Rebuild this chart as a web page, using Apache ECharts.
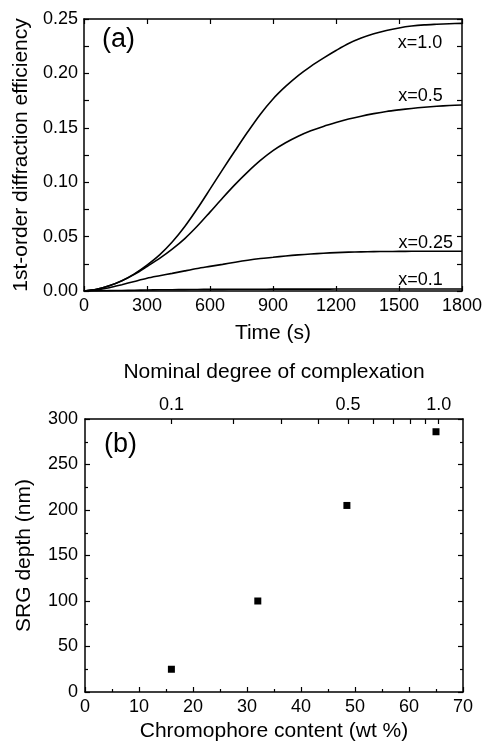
<!DOCTYPE html>
<html>
<head>
<meta charset="utf-8">
<script src="https://cdn.jsdelivr.net/npm/echarts@6/dist/echarts.min.js"></script>
<style>
html,body{margin:0;padding:0;background:#fff;}
#chart{width:485px;height:743px;}
</style>
</head>
<body>
<div id="chart"></div>
<script>
// ---- Panel (a) data ----
const timeS = [0,60,120,180,240,300,360,420,480,540,600,660,720,780,840,900,960,1020,1080,1140,1200,1260,1320,1380,1440,1500,1560,1620,1680,1740,1800];
const effX10 = [0,0.0015,0.0048,0.0095,0.0158,0.0238,0.0332,0.0450,0.0593,0.0758,0.0936,0.1116,0.1291,0.1463,0.1625,0.1765,0.1880,0.1980,0.2065,0.2140,0.2210,0.2275,0.2325,0.2365,0.2395,0.2418,0.2435,0.2446,0.2452,0.2457,0.2460];
const effX05 = [0,0.0015,0.0048,0.0093,0.0153,0.0225,0.0300,0.0385,0.0482,0.0597,0.0725,0.0855,0.0980,0.1095,0.1200,0.1290,0.1362,0.1422,0.1472,0.1513,0.1548,0.1580,0.1607,0.1630,0.1650,0.1665,0.1678,0.1689,0.1698,0.1705,0.1710];
const effX025 = [0,0.0010,0.0030,0.0058,0.0088,0.0117,0.0140,0.0162,0.0185,0.0207,0.0226,0.0245,0.0265,0.0283,0.0298,0.0310,0.0322,0.0332,0.0340,0.0347,0.0353,0.0357,0.0360,0.0362,0.0363,0.0364,0.0365,0.0365,0.0366,0.0366,0.0366];
const effX01 = [0,0.0001,0.0003,0.0005,0.0007,0.0009,0.0011,0.0012,0.0013,0.0014,0.0015,0.0015,0.0016,0.0016,0.0016,0.0017,0.0017,0.0017,0.0017,0.0017,0.0018,0.0018,0.0018,0.0018,0.0018,0.0018,0.0018,0.0018,0.0018,0.0018,0.0018];
const curveNames = ['x=1.0','x=0.5','x=0.25','x=0.1'];
const curveLabelAt = [[1600,0.228],[1602,0.179],[1627,0.0441],[1602,0.0101]];

// ---- Panel (b) data ----
const chromophoreWt = [16, 32, 48.5, 65];
const srgDepthNm = [25, 100, 205, 286];
// top axis: nominal degree of complexation, positions in wt %
const complexValues = ['0.1','0.2','0.3','0.4','0.5','0.6','0.7','0.8','0.9','1.0'];
const complexWt = [16.0, 27.5, 36.3, 43.2, 48.7, 53.3, 57.1, 60.3, 63.1, 65.5];
const complexLabeled = ['0.1','0.5','1.0'];

const FONT = 'Liberation Sans, Arial, sans-serif';
const black = '#000';

const chart = echarts.init(document.getElementById('chart'), null, {renderer:'canvas'});

function zip(xs, ys){ return xs.map((x,i)=>[x, ys[i]]); }

const curves = [effX10, effX05, effX025, effX01].map((vals, i) => ({
  type:'line', xAxisIndex:0, yAxisIndex:0, name:curveNames[i],
  data: zip(timeS, vals), showSymbol:false, symbol:'none', smooth:0.3,
  lineStyle:{color:black, width:1.6}, z:3
}));

const curveLabels = {
  type:'scatter', xAxisIndex:0, yAxisIndex:0, silent:true,
  data: curveLabelAt.map((c,i)=>({value:c, label:{formatter:curveNames[i]}})),
  symbol:'rect', symbolSize:1, itemStyle:{color:'rgba(255,255,255,0)', opacity:1},
  label:{show:true, position:'inside', color:'#000', opacity:1, fontSize:18, fontFamily:FONT},
  z:4
};

const axisLineStyle = {show:true, onZero:false, lineStyle:{color:black, width:1.5}};
const tickStyle = {show:true, inside:true, length:5, lineStyle:{color:black, width:1.2}};
const minorStyle = {show:true, splitNumber:2, length:3, lineStyle:{color:black, width:1.2}};
const labelStyle = {color:black, fontSize:18, fontFamily:FONT};
const nameStyle = {color:black, fontSize:21, fontFamily:FONT};

const option = {
  animation:false,
  backgroundColor:'#fff',
  grid:[
    {left:84, top:19, width:378, height:272},
    {left:85, top:419, width:378, height:273}
  ],
  xAxis:[
    {gridIndex:0, type:'value', position:'bottom', min:0, max:1800, interval:300,
     axisLine:axisLineStyle, axisTick:tickStyle, splitLine:{show:false},
     axisLabel:{...labelStyle, margin:6, formatter:v=>String(v)},
     name:'Time (s)', nameLocation:'middle', nameGap:32, nameTextStyle:nameStyle},
    {gridIndex:0, type:'value', position:'top', min:0, max:1800, interval:300,
     axisLine:axisLineStyle, axisTick:tickStyle, splitLine:{show:false}, axisLabel:{show:false}},
    {gridIndex:1, type:'value', position:'bottom', min:0, max:70, interval:10,
     axisLine:axisLineStyle, axisTick:tickStyle, minorTick:minorStyle, splitLine:{show:false}, minorSplitLine:{show:false},
     axisLabel:{...labelStyle, margin:6},
     name:'Chromophore content (wt %)', nameLocation:'middle', nameGap:29, nameTextStyle:nameStyle},
    {gridIndex:1, type:'value', position:'top', min:0, max:70,
     axisLine:axisLineStyle,
     axisTick:{...tickStyle, customValues:complexWt},
     splitLine:{show:false},
     axisLabel:{...labelStyle, margin:5,
       customValues: complexLabeled.map(c => complexWt[complexValues.indexOf(c)]),
       formatter: v => { let best=0; complexWt.forEach((w,i)=>{ if(Math.abs(w-v)<Math.abs(complexWt[best]-v)) best=i; }); return complexValues[best]; }},
     name:'Nominal degree of complexation', nameLocation:'middle', nameGap:36, nameTextStyle:nameStyle}
  ],
  yAxis:[
    {gridIndex:0, type:'value', position:'left', min:0, max:0.25, interval:0.05,
     axisLine:axisLineStyle, axisTick:tickStyle, minorTick:{...minorStyle, length:5}, splitLine:{show:false}, minorSplitLine:{show:false},
     axisLabel:{...labelStyle, margin:6, formatter:v=>v.toFixed(2)},
     name:'1st-order diffraction efficiency', nameLocation:'middle', nameGap:50, nameTextStyle:nameStyle},
    {gridIndex:0, type:'value', position:'right', min:0, max:0.25, interval:0.05,
     axisLine:axisLineStyle, axisTick:tickStyle, minorTick:{...minorStyle, length:5}, splitLine:{show:false}, minorSplitLine:{show:false},
     axisLabel:{show:false}},
    {gridIndex:1, type:'value', position:'left', min:0, max:300, interval:50,
     axisLine:axisLineStyle, axisTick:tickStyle, minorTick:minorStyle, splitLine:{show:false}, minorSplitLine:{show:false},
     axisLabel:{...labelStyle, margin:7},
     name:'SRG depth (nm)', nameLocation:'middle', nameGap:50, nameTextStyle:nameStyle},
    {gridIndex:1, type:'value', position:'right', min:0, max:300, interval:50,
     axisLine:axisLineStyle, axisTick:tickStyle, minorTick:minorStyle, splitLine:{show:false}, minorSplitLine:{show:false},
     axisLabel:{show:false}}
  ],
  graphic:[
    {type:'text', left:102, top:26, style:{text:'(a)', fill:black, font:'27px ' + FONT}},
    {type:'text', left:104, top:431, style:{text:'(b)', fill:black, font:'27px ' + FONT}}
  ],
  series:[
    ...curves,
    curveLabels,
    {type:'scatter', xAxisIndex:2, yAxisIndex:2, data:zip(chromophoreWt, srgDepthNm),
     symbol:'rect', symbolSize:7, itemStyle:{color:black, opacity:1}}
  ]
};
chart.setOption(option);
</script>
</body>
</html>
